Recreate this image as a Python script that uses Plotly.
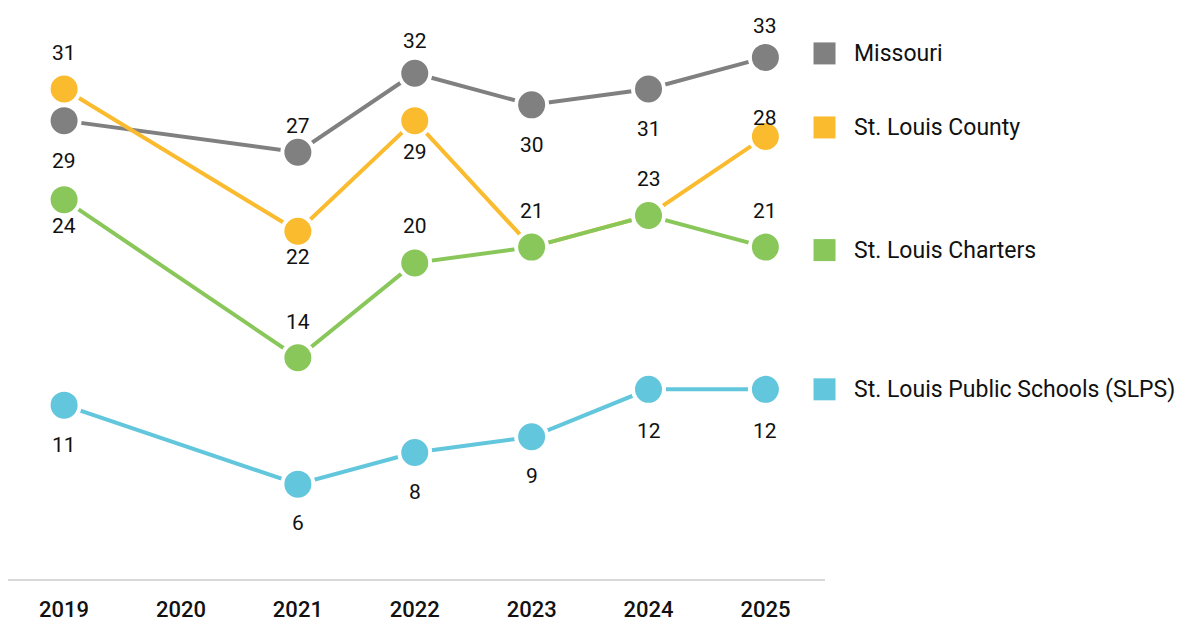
import plotly.graph_objects as go

years = [2019, 2021, 2022, 2023, 2024, 2025]
tick_years = [2019, 2020, 2021, 2022, 2023, 2024, 2025]

series_names = ["Missouri", "St. Louis County", "St. Louis Charters", "St. Louis Public Schools (SLPS)"]
missouri = [29, 27, 32, 30, 31, 33]
county = [31, 22, 29, 21, 23, 28]
charters = [24, 14, 20, 21, 23, 21]
slps = [11, 6, 8, 9, 12, 12]

colors = ["#808080", "#FBBB2E", "#8AC75A", "#62C6DC"]

# label pixel offsets per point (positive = above); None = no label
label_offsets = {
    "Missouri": [-40, 26, 32, -40, -40, 31],
    "St. Louis County": [36, -26, -31, None, None, 18],
    "St. Louis Charters": [-26, 36, 37, 36, 36, 36],
    "St. Louis Public Schools (SLPS)": [-40, -39, -39, -39, -42, -42],
}
legend_shift = {
    "Missouri": 4,
    "St. Louis County": 9,
    "St. Louis Charters": -3,
    "St. Louis Public Schools (SLPS)": 0,
}

all_values = [missouri, county, charters, slps]

fig = go.Figure()
for name, vals, col in zip(series_names, all_values, colors):
    fig.add_trace(go.Scatter(
        x=years, y=vals, mode="lines+markers", name=name,
        line=dict(color=col, width=4),
        marker=dict(size=31, color=col, line=dict(color="white", width=4)),
        cliponaxis=False, showlegend=False, hoverinfo="x+y+name",
    ))

annotations = []
for name, vals in zip(series_names, all_values):
    for x, v, off in zip(years, vals, label_offsets[name]):
        if off is None:
            continue
        annotations.append(dict(
            x=x, y=v, xref="x", yref="y", text=str(v), showarrow=False,
            yshift=off, font=dict(family="Roboto", size=21, color="#111111"),
        ))

shapes = []
for name, vals, col in zip(series_names, all_values, colors):
    last = vals[-1]
    shapes.append(dict(
        type="rect", xref="paper", yref="y", xsizemode="pixel", ysizemode="pixel",
        xanchor=0.9994, yanchor=last, x0=-11, x1=11,
        y0=-11 + legend_shift[name], y1=11 + legend_shift[name],
        fillcolor=col, line=dict(width=0),
    ))
    annotations.append(dict(
        x=1.0367, y=last, xref="paper", yref="y", text=name, showarrow=False,
        xanchor="left", yshift=legend_shift[name], xshift=-3,
        font=dict(family="Roboto", size=23, color="#111111"),
    ))

fig.update_layout(
    width=1195, height=625,
    margin=dict(l=8, r=370, t=10, b=46, autoexpand=False),
    paper_bgcolor="white", plot_bgcolor="white",
    annotations=annotations, shapes=shapes,
    xaxis=dict(
        range=[2018.52, 2025.51], tickvals=tick_years, ticktext=[str(t) for t in tick_years],
        showgrid=False, zeroline=False, showline=True, linecolor="#d9d9d9", linewidth=2,
        ticks="outside", ticklen=10, tickcolor="rgba(0,0,0,0)", automargin=False,
        tickfont=dict(family="Roboto", size=22, color="#111111", weight=500),
    ),
    yaxis=dict(range=[0, 36], visible=False, showgrid=False, zeroline=False, automargin=False),
    hovermode="closest",
)

fig.write_html(
    "out.html",
    config={"displayModeBar": False},
    post_script="document.body.style.margin='0';document.body.style.overflow='hidden';",
)
